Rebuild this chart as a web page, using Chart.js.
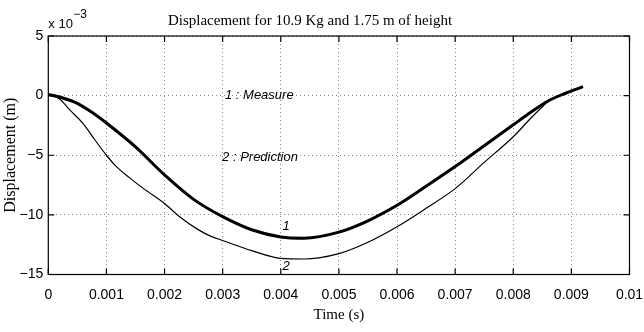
<!DOCTYPE html>
<html lang="en">
<head>
  <meta charset="UTF-8" />
  <title>Displacement</title>
  <style>
    body { margin: 0; background: #fff; }
    #wrap { width: 644px; height: 332px; }
  </style>
</head>
<body>
  <div id="wrap"><canvas id="myChart"></canvas></div>

  <script src="https://cdn.jsdelivr.net/npm/chart.js"></script>
  <script>
    // values, displacement in units of 1e-3 m
    const timeMeasure = [0, 0.00025, 0.0005, 0.00075, 0.001, 0.0015, 0.002, 0.0025, 0.003, 0.0035, 0.004, 0.0044, 0.005, 0.0055, 0.006, 0.0065, 0.007, 0.0075, 0.008, 0.0083, 0.0086, 0.0089, 0.0092];
    const measure = [0.1, -0.2, -0.65, -1.4, -2.3, -4.3, -6.65, -8.7, -10.15, -11.25, -11.85, -11.95, -11.45, -10.5, -9.2, -7.6, -5.95, -4.2, -2.45, -1.4, -0.45, 0.2, 0.75];

    const timePrediction = [0, 0.0001, 0.0002, 0.00037, 0.0006, 0.0008, 0.001, 0.00115, 0.0014, 0.00164, 0.002, 0.00227, 0.0026, 0.0028, 0.003, 0.0035, 0.004, 0.0044, 0.005, 0.0055, 0.006, 0.0065, 0.007, 0.0075, 0.008, 0.0083, 0.0086];
    const prediction = [0.05, -0.05, -0.3, -1.2, -2.35, -3.7, -5.0, -5.85, -6.9, -7.8, -9.05, -10.2, -11.3, -11.8, -12.15, -13.0, -13.65, -13.7, -13.25, -12.3, -11.0, -9.45, -7.8, -5.6, -3.45, -1.9, -0.45];

    const xTicks = [0, 0.001, 0.002, 0.003, 0.004, 0.005, 0.006, 0.007, 0.008, 0.009, 0.01];
    const yTicks = [-15, -10, -5, 0, 5];

    const notes = [
      { text: '1 : Measure', x: 0.00304, y: 0, align: 'left' },
      { text: '2 : Prediction', x: 0.00299, y: -5.2, align: 'left' },
      { text: '1', x: 0.00409, y: -11.0, align: 'center' },
      { text: '2', x: 0.00409, y: -14.3, align: 'center' }
    ];

    const toPoints = (xs, ys) => xs.map((x, i) => ({ x: x, y: ys[i] }));

    const sans = "'Liberation Sans', Arial, sans-serif";
    const serif = "'Liberation Serif', 'Times New Roman', serif";

    // frame with inward ticks, title, exponent and the curve notes
    const extras = {
      id: 'extras',
      afterDraw(chart) {
        const ctx = chart.ctx;
        const a = chart.chartArea;
        const xs = chart.scales.x;
        const ys = chart.scales.y;
        ctx.save();
        ctx.strokeStyle = '#000';
        ctx.lineWidth = 1.2;
        ctx.strokeRect(a.left, a.top, a.right - a.left, a.bottom - a.top);
        ctx.beginPath();
        xTicks.forEach(v => {
          const px = xs.getPixelForValue(v);
          ctx.moveTo(px, a.bottom); ctx.lineTo(px, a.bottom - 6);
          ctx.moveTo(px, a.top); ctx.lineTo(px, a.top + 6);
        });
        yTicks.forEach(v => {
          const py = ys.getPixelForValue(v);
          ctx.moveTo(a.left, py); ctx.lineTo(a.left + 6, py);
          ctx.moveTo(a.right, py); ctx.lineTo(a.right - 6, py);
        });
        ctx.stroke();

        ctx.fillStyle = '#000';
        ctx.textBaseline = 'middle';
        ctx.textAlign = 'center';
        ctx.font = '15px ' + serif;
        ctx.fillText('Displacement for 10.9 Kg and 1.75 m of height', 310, 21);

        ctx.textAlign = 'left';
        ctx.font = '13px ' + sans;
        ctx.fillText('x 10', a.left, 24);
        ctx.font = '12px ' + sans;
        ctx.fillText('\u22123', a.left + 25, 15);

        ctx.font = 'italic 13px ' + sans;
        notes.forEach(n => {
          ctx.textAlign = n.align;
          ctx.fillText(n.text, xs.getPixelForValue(n.x), ys.getPixelForValue(n.y));
        });
        ctx.restore();
      }
    };

    new Chart(document.getElementById('myChart'), {
      type: 'line',
      data: {
        datasets: [
          {
            label: 'Measure',
            data: toPoints(timeMeasure, measure),
            borderColor: '#000',
            borderWidth: 3,
            pointRadius: 0,
            cubicInterpolationMode: 'monotone'
          },
          {
            label: 'Prediction',
            data: toPoints(timePrediction, prediction),
            borderColor: '#000',
            borderWidth: 1.2,
            pointRadius: 0,
            cubicInterpolationMode: 'monotone'
          }
        ]
      },
      options: {
        responsive: true,
        maintainAspectRatio: false,
        animation: false,
        layout: { padding: { top: 36, right: 14.5, left: 0, bottom: 0 } },
        plugins: { legend: { display: false }, tooltip: { enabled: false } },
        scales: {
          x: {
            type: 'linear',
            min: 0,
            max: 0.01,
            afterBuildTicks: s => { s.ticks = xTicks.map(v => ({ value: v })); },
            afterFit: s => { s.height = 57.5; s.paddingLeft = 0; s.paddingRight = 0; },
            ticks: {
              padding: 12,
              color: '#000',
              font: { family: sans, size: 14 },
              maxRotation: 0,
              callback: v => v === 0 ? '0' : String(+v.toFixed(3))
            },
            grid: { color: '#888', lineWidth: 1, drawTicks: false },
            border: { display: false, dash: [1, 3] },
            title: {
              display: true,
              text: 'Time (s)',
              color: '#000',
              font: { family: serif, size: 15 },
              padding: { top: 0, bottom: 8 }
            }
          },
          y: {
            type: 'linear',
            min: -15,
            max: 5,
            afterBuildTicks: s => { s.ticks = yTicks.map(v => ({ value: v })); },
            afterFit: s => { s.width = 48.3; s.paddingTop = 0; s.paddingBottom = 0; },
            ticks: {
              padding: 5,
              color: '#000',
              font: { family: sans, size: 14 },
              callback: v => v < 0 ? '\u2212' + Math.abs(v) : String(v)
            },
            grid: { color: '#888', lineWidth: 1, drawTicks: false },
            border: { display: false, dash: [1, 3] },
            title: {
              display: true,
              text: 'Displacement (m)',
              color: '#000',
              font: { family: serif, size: 16 },
              padding: { top: 1, bottom: 0 }
            }
          }
        }
      },
      plugins: [extras]
    });
  </script>
</body>
</html>
